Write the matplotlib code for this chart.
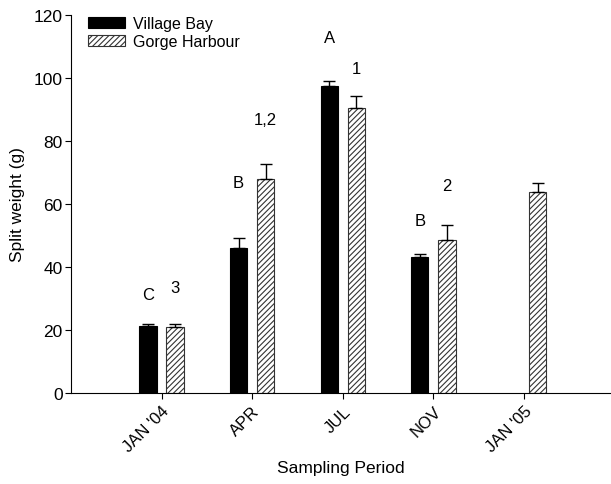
import matplotlib
matplotlib.use("Agg")
import matplotlib.pyplot as plt
import numpy as np

plt.rcParams['font.family'] = ['Liberation Sans', 'DejaVu Sans']
plt.rcParams['hatch.linewidth'] = 0.8

periods = ["JAN '04", "APR", "JUL", "NOV", "JAN '05"]
village_bay = [21.2, 45.9, 97.4, 43.2, np.nan]
village_bay_err = [0.7, 3.4, 1.5, 1.0, np.nan]
gorge_harbour = [21.0, 68.0, 90.4, 48.6, 63.9]
gorge_harbour_err = [1.0, 4.6, 3.9, 4.7, 2.8]
vb_letters = ["C", "B", "A", "B", ""]
vb_letter_y = [31.1, 66.7, 113.0, 54.6, 0]
gh_letters = ["3", "1,2", "1", "2", ""]
gh_letter_y = [33.3, 86.7, 103.0, 66.0, 0]

fig = plt.figure(figsize=(6.11, 4.85), dpi=100)
ax = fig.add_axes([0.116, 0.188, 0.884, 0.779])

x = np.arange(len(periods))
w = 0.19
off = 0.15

vb = np.array(village_bay, dtype=float)
vbe = np.array(village_bay_err, dtype=float)
gh = np.array(gorge_harbour, dtype=float)
ghe = np.array(gorge_harbour_err, dtype=float)
m = ~np.isnan(vb)

ax.bar(x[m] - off, vb[m], width=w, color='black', edgecolor='black', linewidth=0.8,
       label='Village Bay', zorder=2)
ax.bar(x + off, gh, width=w, color='white', edgecolor='#333333', hatch='//////',
       linewidth=0.8, label='Gorge Harbour', zorder=2)
ax.errorbar(x[m] - off, vb[m], yerr=[np.zeros(m.sum()), vbe[m]], fmt='none',
            ecolor='black', elinewidth=1.0, capsize=4.3, capthick=1.0, zorder=3)
ax.errorbar(x + off, gh, yerr=[np.zeros(len(gh)), ghe], fmt='none',
            ecolor='black', elinewidth=1.0, capsize=4.3, capthick=1.0, zorder=3)

for i in range(len(periods)):
    if vb_letters[i]:
        ax.text(x[i] - off, vb_letter_y[i], vb_letters[i], ha='center', va='center', fontsize=12)
    if gh_letters[i]:
        ax.text(x[i] + off, gh_letter_y[i], gh_letters[i], ha='center', va='center', fontsize=12)

ax.set_xlim(-1.0, 4.96)
ax.set_ylim(0, 120)
ax.set_yticks(np.arange(0, 121, 20))
ax.set_xticks(x)
ax.set_xticklabels(periods, rotation=45, ha='right', rotation_mode='anchor', fontsize=12)
ax.tick_params(axis='y', labelsize=12.5, direction='out', length=4, pad=2)
ax.tick_params(axis='x', direction='out', length=4)
ax.spines['top'].set_visible(False)
ax.spines['right'].set_visible(False)
ax.set_ylabel('Split weight (g)', fontsize=12.5, labelpad=6)
ax.set_xlabel('Sampling Period', fontsize=12.5, labelpad=4)

ax.legend(loc='upper left', bbox_to_anchor=(0.02, 1.015), frameon=False, fontsize=11.5,
          handlelength=2.3, handleheight=0.7, labelspacing=0.2, handletextpad=0.5,
          borderaxespad=0)

fig.savefig('out.png', dpi=100)
